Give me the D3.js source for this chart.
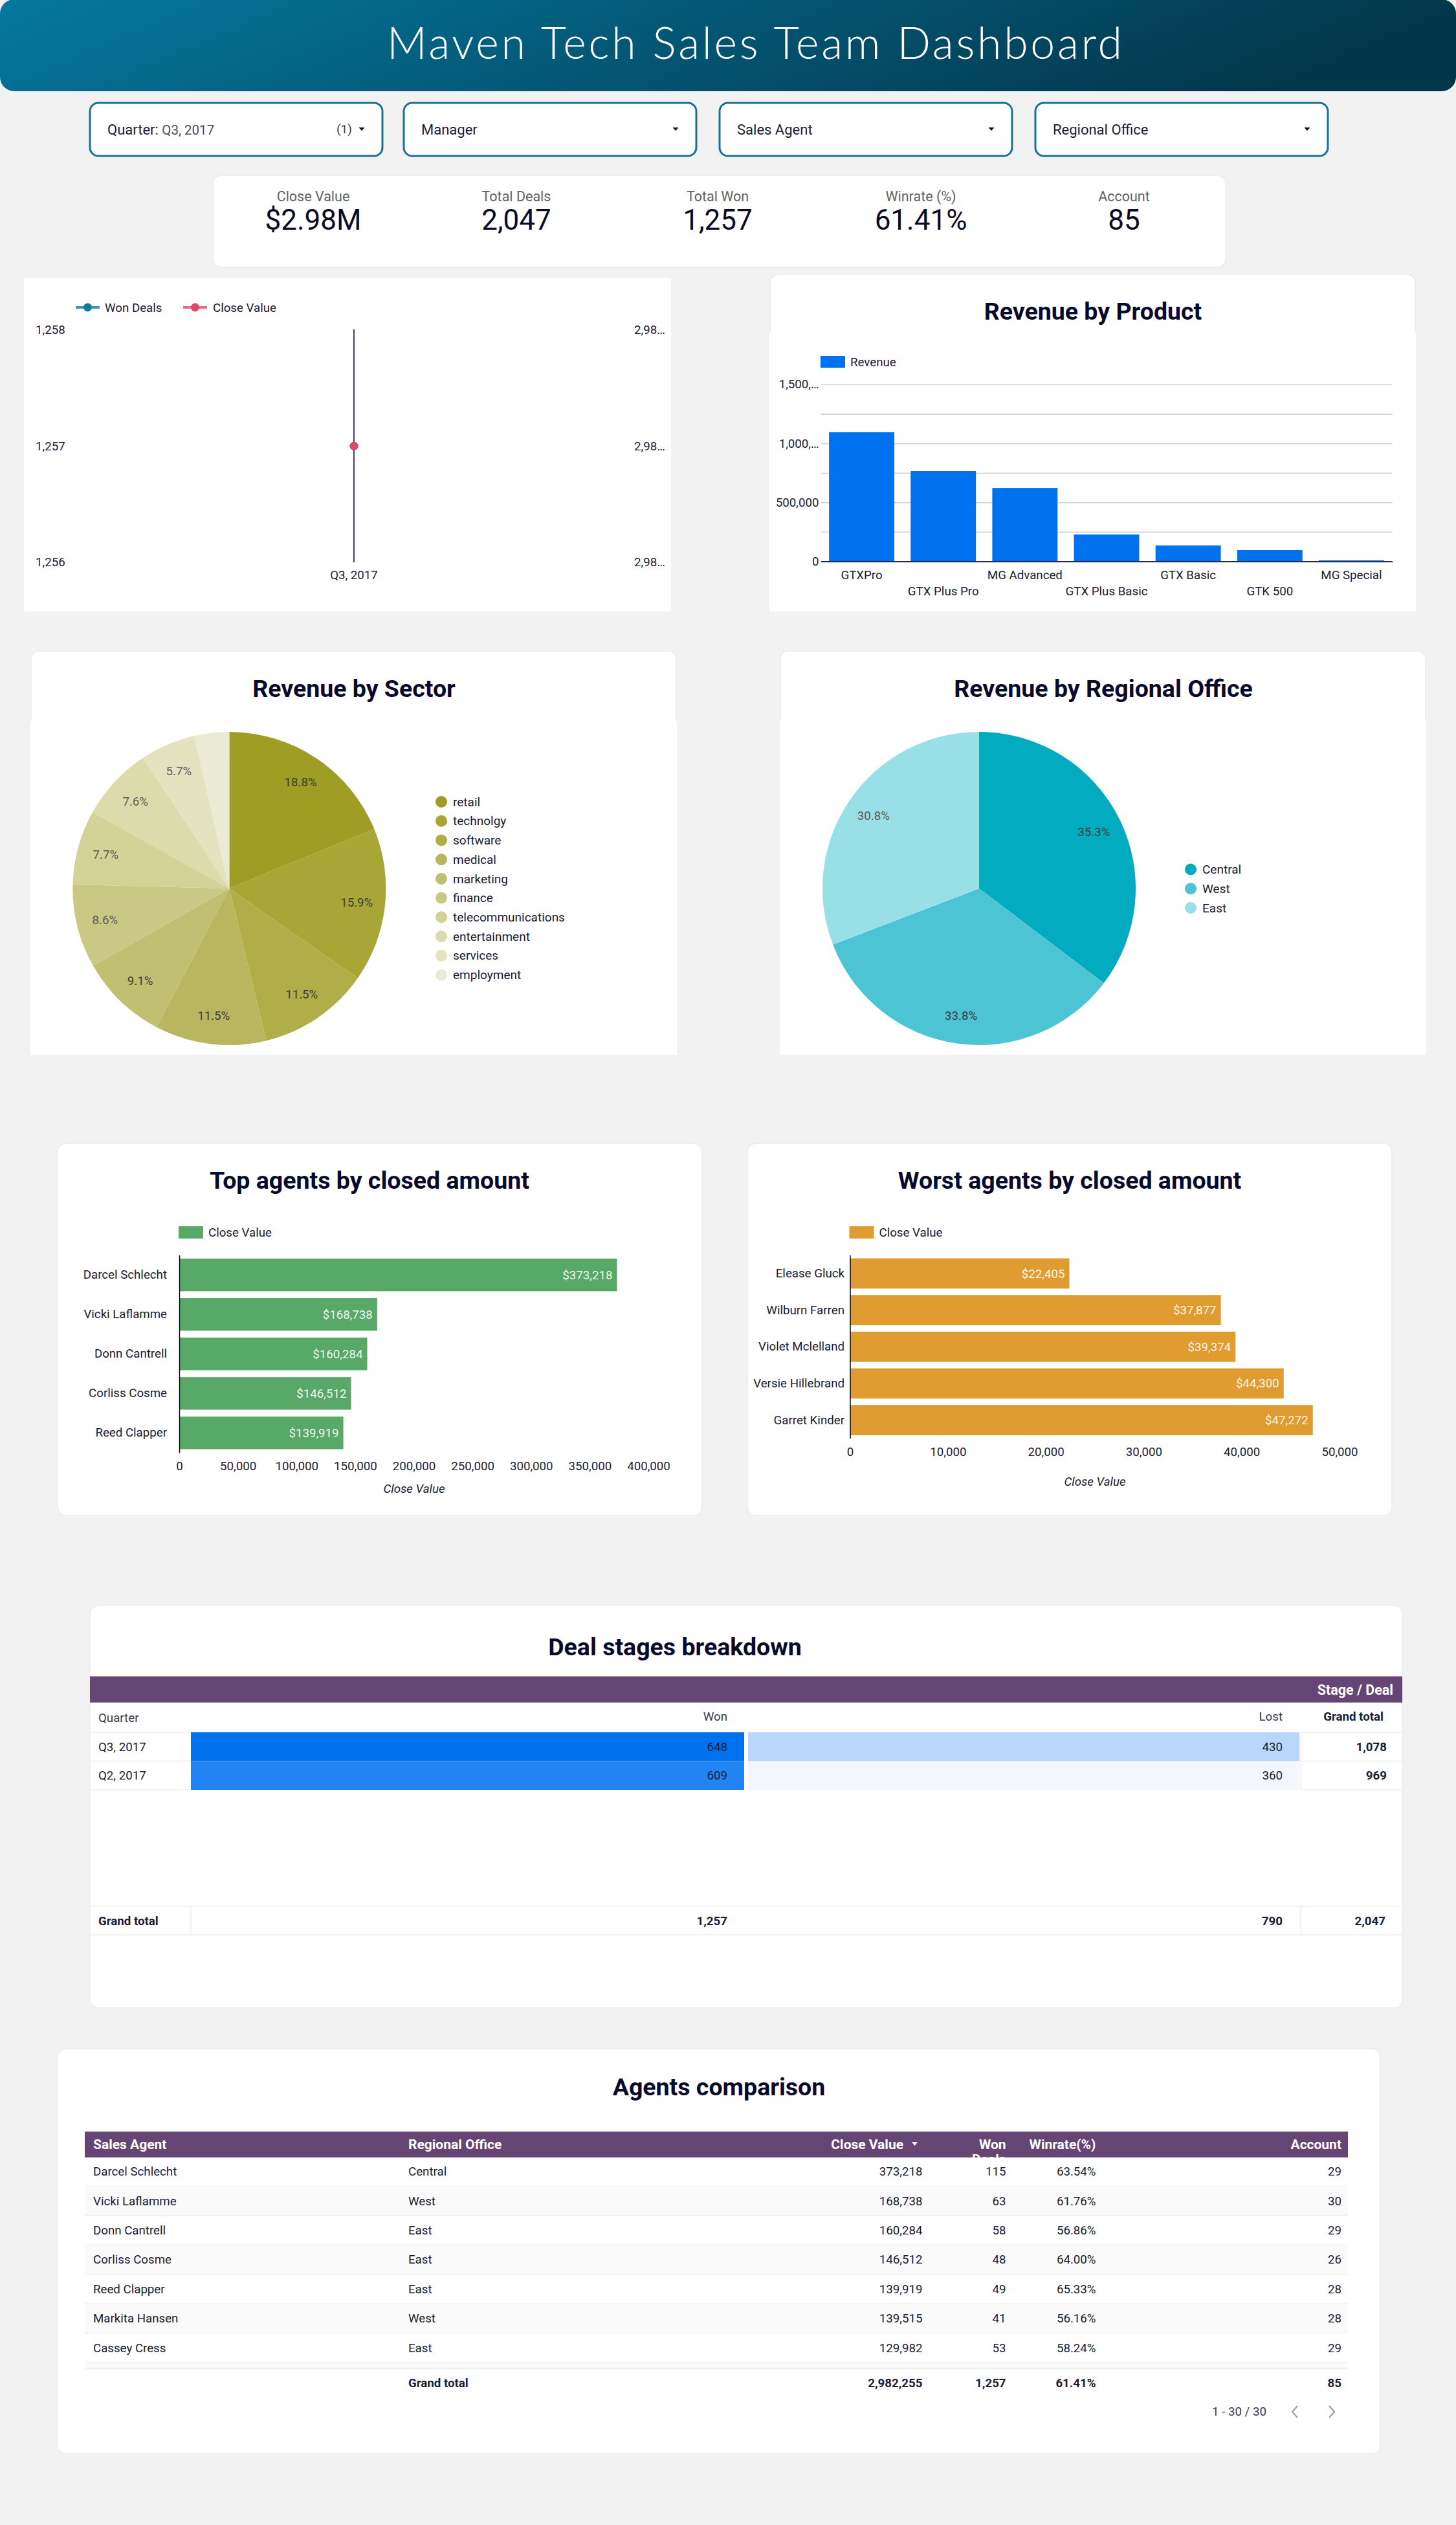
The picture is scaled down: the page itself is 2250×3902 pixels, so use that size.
<!DOCTYPE html>
<html><head><meta charset="utf-8">
<script src="https://cdn.jsdelivr.net/npm/d3@7/dist/d3.min.js"></script>
<style>
html,body{margin:0;padding:0;background:#f2f2f2;}
svg{display:block;}
text{font-family:Roboto,sans-serif;}
</style></head><body>
<svg id="c" width="2250" height="3902" viewBox="0 0 2250 3902"></svg>
<script>
const dashboardTitle = "Maven Tech Sales Team Dashboard";
const filterLabels = ["Manager","Sales Agent","Regional Office"];
const kpiLabels = ["Close Value","Total Deals","Total Won","Winrate (%)","Account"];
const kpiValues = ["$2.98M","2,047","1,257","61.41%","85"];

const trendQuarters = ["Q3, 2017"];
const trendWonDeals = [1257];
const trendCloseValues = [2982255];
const trendLeftTicks = [1256,1257,1258];

const products = ["GTXPro","GTX Plus Pro","MG Advanced","GTX Plus Basic","GTX Basic","GTK 500","MG Special"];
const productRevenue = [1094000,765000,622000,228000,135000,96000,9000];
const productTicks = [0,250000,500000,750000,1000000,1250000,1500000];

const sectors = ["retail","technolgy","software","medical","marketing","finance","telecommunications","entertainment","services","employment"];
const sectorShare = [18.8,15.9,11.5,11.5,9.1,8.6,7.7,7.6,5.7,3.6];
const sectorColors = ["#9e9d24","#a7a636","#afae48","#b8b65e","#c0bf72","#c9c885","#d3d298","#dcdbac","#e3e3c0","#ebebd3"];

const offices = ["Central","West","East"];
const officeShare = [35.3,33.8,30.8];
const officeColors = ["#03abc1","#4dc4d4","#99dfe7"];

const topAgents = ["Darcel Schlecht","Vicki Laflamme","Donn Cantrell","Corliss Cosme","Reed Clapper"];
const topValues = [373218,168738,160284,146512,139919];
const worstAgents = ["Elease Gluck","Wilburn Farren","Violet Mclelland","Versie Hillebrand","Garret Kinder"];
const worstValues = [22405,37877,39374,44300,47272];

const stageQuarters = ["Q3, 2017","Q2, 2017"];
const stageWon = [648,609];
const stageLost = [430,360];
const stageTotal = [1078,969];
const stageGrand = [1257,790,2047];

const tableAgents = ["Darcel Schlecht","Vicki Laflamme","Donn Cantrell","Corliss Cosme","Reed Clapper","Markita Hansen","Cassey Cress"];
const tableOffices = ["Central","West","East","East","East","West","East"];
const tableClose = [373218,168738,160284,146512,139919,139515,129982];
const tableWon = [115,63,58,48,49,41,53];
const tableWinrate = ["63.54%","61.76%","56.86%","64.00%","65.33%","56.16%","58.24%"];
const tableAccount = [29,30,29,26,28,28,29];
const tableGrand = ["2,982,255","1,257","61.41%","85"];

const INK="#09092c", TXT="#1c1c36", CARD="#e9ecee", PURPLE="#654573";
const svg=d3.select("#c");
const fmt=d3.format(",");
function t(g,x,y,s,o={}){
  return g.append("text").attr("x",x).attr("y",y).attr("dy",".35em").text(s)
    .attr("font-size",o.size||18.7).attr("fill",o.fill||TXT)
    .attr("text-anchor",o.anchor||"start").attr("font-weight",o.weight||400)
    .attr("font-style",o.style||"normal");
}
function rect(g,x,y,w,h,fill,o={}){
  return g.append("rect").attr("x",x).attr("y",y).attr("width",w).attr("height",h)
    .attr("fill",fill).attr("rx",o.r||0).attr("stroke",o.stroke||"none").attr("stroke-width",o.sw||1);
}
function card(x,y,w,h){ return rect(svg,x,y,w,h,"#fff",{r:13,stroke:CARD,sw:1.5}); }
function title(x,y,s){ return t(svg,x,y,s,{size:37.5,weight:700,fill:INK,anchor:"middle"}); }
function styleAxis(g,size,fill){
  g.selectAll("text").attr("font-size",size||18.7).attr("fill",fill||TXT).attr("font-family","Roboto,sans-serif");
}

/* page header */
const defs=svg.append("defs");
const grad=defs.append("linearGradient").attr("id","hdr").attr("x1","0").attr("x2","1").attr("y1","0").attr("y2","0.15");
grad.append("stop").attr("offset","0").attr("stop-color","#05799f");
grad.append("stop").attr("offset","1").attr("stop-color","#03364b");
rect(svg,0,-1,2250,142,"url(#hdr)",{r:22});
t(svg,1166,67,dashboardTitle,{size:68,fill:"#fff",anchor:"middle",weight:300}).style("font-family","Lato,sans-serif").attr("textLength",1136);

/* filter controls */
const filterX=[139,624,1112,1600];
filterX.forEach((x,i)=>{
  rect(svg,x,159,452,82,"#fff",{r:13,stroke:"#167193",sw:3});
  const ax=x+420;
  svg.append("path").attr("d",`M${ax-4.5},197 h9 l-4.5,5 z`).attr("fill",INK);
  if(i===0){
    const q=t(svg,x+27,200,"Quarter: ",{size:22,fill:TXT});
    q.append("tspan").text("Q3, 2017").attr("font-size",20.5).attr("fill","#4a4a5e");
    t(svg,x+381,199,"(1)",{size:19,fill:"#3c3c50"});
  } else {
    t(svg,x+27,200,filterLabels[i-1],{size:22,fill:TXT});
  }
});

/* scorecards */
card(329,271,1565,142);
const kpiX=[484,798,1109,1423,1737];
kpiLabels.forEach((s,i)=>{
  t(svg,kpiX[i],303,s,{size:21.5,fill:"#5f6368",anchor:"middle"});
  t(svg,kpiX[i],340,kpiValues[i],{size:44,fill:"#0a0a22",anchor:"middle"});
});

/* trend chart */
rect(svg,37,430,1000,515,"#fff");
const tg=svg.append("g");
[["Won Deals","#0b7da5",117,162],["Close Value","#e0466e",283,329]].forEach(d=>{
  tg.append("line").attr("x1",d[2]).attr("x2",d[2]+37).attr("y1",475).attr("y2",475).attr("stroke",d[1]).attr("stroke-width",4).attr("stroke-opacity",.8);
  tg.append("circle").attr("cx",d[2]+18.5).attr("cy",475).attr("r",6.5).attr("fill",d[1]);
  t(tg,d[3],475,d[0],{});
});
const tx=d3.scaleBand().domain(trendQuarters).range([100,994]);
const tyL=d3.scaleLinear().domain([1256,1258]).range([869,509.5]);
const tyR=d3.scaleLinear().domain([2982254,2982256]).range([869,509.5]);
const lAxis=tg.append("g").attr("transform","translate(55,0)").call(d3.axisRight(tyL).tickValues(trendLeftTicks).tickFormat(fmt).tickSize(0).tickPadding(0));
lAxis.select(".domain").remove(); styleAxis(lAxis);
const rAxis=tg.append("g").attr("transform","translate(980,0)").call(d3.axisRight(tyR).tickValues([2982254,2982255,2982256]).tickFormat(()=>"2,98…").tickSize(0).tickPadding(0));
rAxis.select(".domain").remove(); styleAxis(rAxis);
const xAxisT=tg.append("g").attr("transform","translate(0,882)").call(d3.axisBottom(tx).tickSize(0).tickPadding(0));
xAxisT.select(".domain").remove(); styleAxis(xAxisT);
const cx0=tx(trendQuarters[0])+tx.bandwidth()/2;
tg.append("line").attr("x1",cx0).attr("x2",cx0).attr("y1",509).attr("y2",869).attr("stroke","#14103c").attr("stroke-width",1.6);
tg.selectAll(".won").data(trendWonDeals).join("circle").attr("cx",cx0).attr("cy",d=>tyL(d)).attr("r",6.5).attr("fill","#0b7da5");
tg.selectAll(".cv").data(trendCloseValues).join("circle").attr("cx",cx0).attr("cy",d=>tyR(d)).attr("r",6.5).attr("fill","#e0466e");

/* revenue by product */
card(1190,424,997,120);
rect(svg,1189,513,999,432,"#fff");
title(1689,481,"Revenue by Product");
const pg=svg.append("g");
rect(pg,1268,550,38,18.5,"#0072f0");
t(pg,1314,559,"Revenue",{});
const px=d3.scaleBand().domain(products).range([1268.5,2151.5]).paddingInner(.2).paddingOuter(.1);
const py=d3.scaleLinear().domain([0,1500000]).range([867.5,594]);
const gridP=pg.append("g").attr("transform","translate(1268.5,0)").call(d3.axisLeft(py).tickValues(productTicks).tickSize(-883).tickPadding(3)
  .tickFormat(d=>d===0?"0":d===500000?"500,000":d===1000000?"1,000,…":d===1500000?"1,500,…":""));
gridP.select(".domain").remove();
gridP.selectAll("line").attr("stroke","#cfd5d9").attr("stroke-width",1.6);
styleAxis(gridP);
pg.selectAll(".b").data(products).join("rect").attr("x",d=>px(d)).attr("width",px.bandwidth())
  .attr("y",(d,i)=>py(productRevenue[i])).attr("height",(d,i)=>py(0)-py(productRevenue[i])).attr("fill","#0072f0");
const xP=pg.append("g").attr("transform","translate(0,867.5)").call(d3.axisBottom(px).tickSize(0).tickPadding(0));
xP.select(".domain").attr("stroke","#2c2c44").attr("stroke-width",2);
styleAxis(xP);
xP.selectAll("text").attr("y",(d,i)=>i%2?47.5:22.5).attr("dy",".0em").attr("dominant-baseline","middle");

/* pies */
function pie(cardX,chartX,titleX,cx,legX,legY,title_,names,vals,cols){
  card(cardX,1006,997,150);
  rect(svg,chartX,1114,999,516,"#fff");
  title(titleX,1064,title_);
  const g=svg.append("g").attr("transform",`translate(${cx},1373)`);
  const arc=d3.arc().innerRadius(0).outerRadius(242);
  const lab=d3.arc().innerRadius(198).outerRadius(198);
  const arcs=d3.pie().sort(null)(vals);
  g.selectAll("path").data(arcs).join("path").attr("d",arc).attr("fill",(d,i)=>cols[i]);
  arcs.forEach((a,i)=>{ if(vals[i]<5) return;
    const c=lab.centroid(a);
    t(g,c[0],c[1],vals[i].toFixed(1)+"%",{anchor:"middle",fill:i<names.length*0.5?"#3c3c3c":"#5c5c5c"});
  });
  const ly=d3.scalePoint().domain(names).range(legY);
  names.forEach((n,i)=>{
    svg.append("circle").attr("cx",legX).attr("cy",ly(n)).attr("r",9).attr("fill",cols[i]);
    t(svg,legX+18,ly(n),n,{size:19});
  });
}
pie(48,47,547,354.4,682,[1239,1506.5],"Revenue by Sector",sectors,sectorShare,sectorColors);
pie(1206,1205,1705,1513,1840,[1343.5,1403],"Revenue by Regional Office",offices,officeShare,officeColors);

/* horizontal bars */
function hbars(o){
  card(o.cardX,1767,996,575);
  title(o.titleX,1824,o.title);
  const g=svg.append("g");
  rect(g,o.x0-1,1895,38,19,o.color);
  t(g,o.x0+45,1904,"Close Value",{});
  const x=d3.scaleLinear().domain(o.domain).range([o.x0,o.x1]);
  const y=d3.scaleBand().domain(o.names).range([o.y0,o.y1]).paddingInner(.175).paddingOuter(.09);
  g.selectAll(".b").data(o.names).join("rect").attr("x",o.x0).attr("y",d=>y(d)).attr("height",y.bandwidth())
    .attr("width",(d,i)=>x(o.vals[i])-o.x0).attr("fill",o.color);
  o.names.forEach((n,i)=>t(g,x(o.vals[i])-7,y(n)+y.bandwidth()/2,"$"+fmt(o.vals[i]),{anchor:"end",fill:"#fff"}).attr("fill-opacity",.92));
  const ax=g.append("g").attr("transform",`translate(${o.x0},0)`).call(d3.axisLeft(y).tickSize(0).tickPadding(o.pad));
  ax.select(".domain").attr("stroke","#060622").attr("stroke-width",1.5);
  styleAxis(ax);
  const bx=g.append("g").attr("transform",`translate(0,${o.tickY})`).call(d3.axisBottom(x).tickValues(o.ticks).tickSize(0).tickPadding(0).tickFormat(fmt));
  bx.select(".domain").remove();
  styleAxis(bx);
  bx.selectAll("text").attr("dy",".35em").attr("y",0);
  t(g,o.axisTitleX,o.axisTitleY,"Close Value",{anchor:"middle",style:"italic"});
}
hbars({cardX:89,titleX:571,title:"Top agents by closed amount",color:"#58a968",x0:277,x1:1002,y0:1939.5,y1:2245,pad:19,
  domain:[0,400000],ticks:d3.range(0,400001,50000),names:topAgents,vals:topValues,tickY:2265,axisTitleX:640,axisTitleY:2300});
hbars({cardX:1155,titleX:1653,title:"Worst agents by closed amount",color:"#e19c31",x0:1313.5,x1:2070,y0:1939.5,y1:2223,pad:8.5,
  domain:[0,50000],ticks:d3.range(0,50001,10000),names:worstAgents,vals:worstValues,tickY:2243.5,axisTitleX:1692,axisTitleY:2289});

/* pivot table */
card(139,2481,2028,622);
title(1043,2545,"Deal stages breakdown");
const ptg=svg.append("g");
rect(ptg,139,2590.5,2028,40.5,PURPLE);
t(ptg,2153,2611,"Stage / Deal",{anchor:"end",fill:"#fff",weight:700,size:21.5});
t(ptg,152,2654,"Quarter",{fill:"#3a3a50"});
t(ptg,1124,2652.5,"Won",{anchor:"end",fill:"#3a3a50"});
t(ptg,1982,2652.5,"Lost",{anchor:"end",fill:"#3a3a50"});
t(ptg,2138,2652.5,"Grand total",{anchor:"end",weight:700});
const heat=d3.scaleLinear().domain([360,648]).range(["#f3f7fd","#0072f0"]);
const ry=d3.scaleBand().domain(stageQuarters).range([2677,2766]);
const lineCol="#eceef0";
stageQuarters.forEach((q,i)=>{
  const y=ry(q),h=ry.bandwidth(),m=y+h/2;
  t(ptg,152,m,q);
  rect(ptg,295,y,855,h,heat(stageWon[i]));
  rect(ptg,1156,y,852,h,heat(stageLost[i]));
  t(ptg,1124,m,fmt(stageWon[i]),{anchor:"end"});
  t(ptg,1982,m,fmt(stageLost[i]),{anchor:"end"});
  t(ptg,2143,m,fmt(stageTotal[i]),{anchor:"end",weight:700});
  ptg.append("line").attr("x1",139).attr("x2",295).attr("y1",y+h).attr("y2",y+h).attr("stroke",lineCol).attr("stroke-width",1.4);
  ptg.append("line").attr("x1",2010).attr("x2",2167).attr("y1",y+h).attr("y2",y+h).attr("stroke",lineCol).attr("stroke-width",1.4);
});
[2677].forEach(y=>ptg.append("line").attr("x1",139).attr("x2",295).attr("y1",y).attr("y2",y).attr("stroke",lineCol).attr("stroke-width",1.6));
[[2012,2167,2677],[139,2167,2945.7],[139,2167,2990]].forEach(a=>ptg.append("line").attr("x1",a[0]).attr("x2",a[1]).attr("y1",a[2]).attr("y2",a[2]).attr("stroke",lineCol).attr("stroke-width",1.6));
[295,2010].forEach(x=>ptg.append("line").attr("x1",x).attr("x2",x).attr("y1",2945.7).attr("y2",2990).attr("stroke",lineCol).attr("stroke-width",1.4));
ptg.append("line").attr("x1",2010).attr("x2",2010).attr("y1",2677).attr("y2",2766).attr("stroke",lineCol).attr("stroke-width",1.4);
t(ptg,152,2968,"Grand total",{weight:700});
t(ptg,1124,2968,fmt(stageGrand[0]),{anchor:"end",weight:700});
t(ptg,1982,2968,fmt(stageGrand[1]),{anchor:"end",weight:700});
t(ptg,2141,2968,fmt(stageGrand[2]),{anchor:"end",weight:700});

/* agents table */
card(89,3166,2044,626);
title(1111,3225,"Agents comparison");
const ag=svg.append("g");
rect(ag,131,3294,1952,40,PURPLE);
const hdr={weight:700,fill:"#fff",size:21};
t(ag,144,3314,"Sales Agent",hdr);
t(ag,631,3314,"Regional Office",hdr);
t(ag,1396,3314,"Close Value",{...hdr,anchor:"end"});
ag.append("path").attr("d","M1409,3310 h9 l-4.5,6 z").attr("fill","#fff");
defs.append("clipPath").attr("id","hclip").append("rect").attr("x",131).attr("y",3294).attr("width",1952).attr("height",40);
const wonH=ag.append("g").attr("clip-path","url(#hclip)");
t(wonH,1554.6,3314,"Won",{...hdr,anchor:"end"});
t(wonH,1554.6,3337,"Deals",{...hdr,anchor:"end"});
t(ag,1693.5,3314,"Winrate(%)",{...hdr,anchor:"end"});
t(ag,2073,3314,"Account",{...hdr,anchor:"end"});
const ty=d3.scaleBand().domain(tableAgents).range([3333,3650.8]);
tableAgents.forEach((n,i)=>{
  const y=ty(n),h=ty.bandwidth(),m=y+h/2;
  if(i%2) rect(ag,131,y,1952,h,"#fafafa");
  ag.append("line").attr("x1",131).attr("x2",2083).attr("y1",y+h).attr("y2",y+h).attr("stroke",lineCol).attr("stroke-width",1.4);
  t(ag,144,m,n);
  t(ag,631,m,tableOffices[i]);
  t(ag,1425.5,m,fmt(tableClose[i]),{anchor:"end"});
  t(ag,1554.6,m,fmt(tableWon[i]),{anchor:"end"});
  t(ag,1693.5,m,tableWinrate[i],{anchor:"end"});
  t(ag,2073,m,fmt(tableAccount[i]),{anchor:"end"});
});
rect(ag,131,3651,1952,9.5,"#fafafa");
ag.append("line").attr("x1",131).attr("x2",2083).attr("y1",3660.5).attr("y2",3660.5).attr("stroke",lineCol).attr("stroke-width",1.4);
t(ag,631,3682.4,"Grand total",{weight:700});
[1425.5,1554.6,1693.5,2073].forEach((x,i)=>t(ag,x,3682.4,tableGrand[i],{anchor:"end",weight:700}));
t(ag,1873,3726.6,"1 - 30 / 30",{fill:"#3a3a50"});
ag.append("path").attr("d","M2005,3718 l-8,9 l8,9").attr("fill","none").attr("stroke","#9aa0a6").attr("stroke-width",2.2);
ag.append("path").attr("d","M2054,3718 l8,9 l-8,9").attr("fill","none").attr("stroke","#9aa0a6").attr("stroke-width",2.2);
</script>
</body></html>
